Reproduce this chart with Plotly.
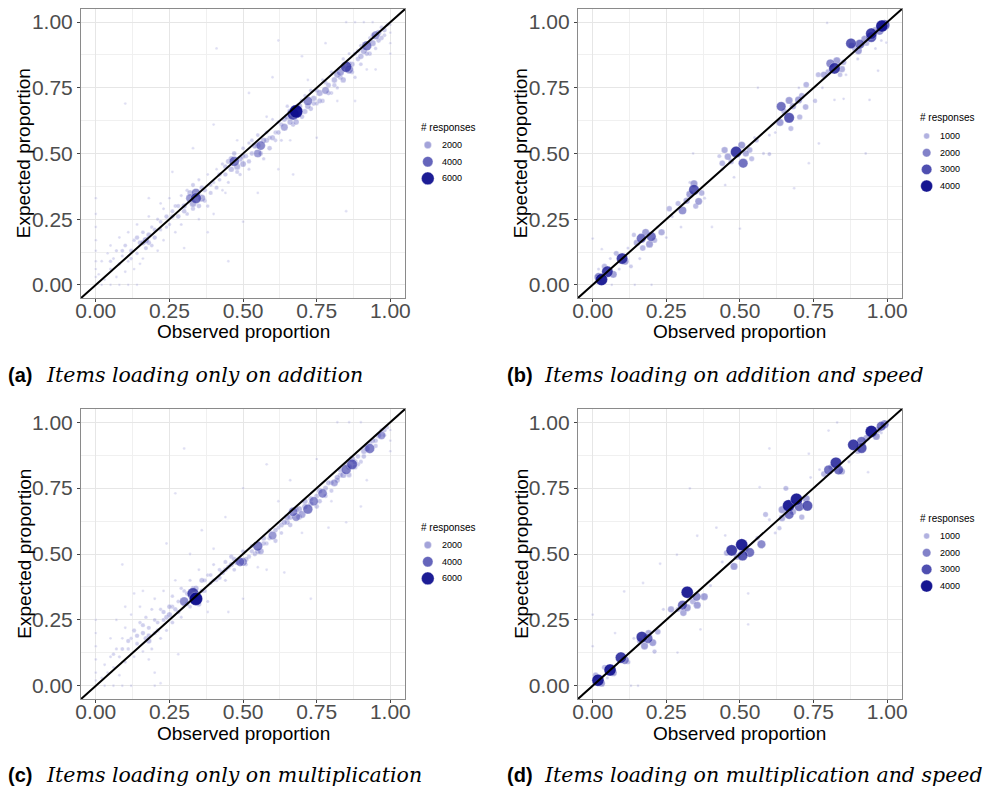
import plotly.graph_objects as go

# ---------------------------------------------------------------------------
# Data: (observed proportion, expected proportion, number of responses)
# ---------------------------------------------------------------------------
points_a = [
    (0.00, 0.03, 120), (0.00, 0.06, 120), (0.00, 0.09, 110), (0.00, 0.13, 100), (0.00, 0.17, 100),
    (0.00, 0.22, 100), (0.00, 0.27, 100), (0.00, 0.33, 100), (0.02, 0.00, 110), (0.05, 0.00, 110),
    (0.08, 0.00, 100), (0.11, 0.00, 100), (0.14, 0.00, 100),
    (0.01, 0.04, 200), (0.02, 0.09, 250), (0.03, 0.02, 300), (0.04, 0.12, 200), (0.05, 0.06, 400),
    (0.05, 0.15, 250), (0.06, 0.10, 350), (0.07, 0.03, 250), (0.07, 0.13, 450), (0.08, 0.08, 500),
    (0.08, 0.18, 250), (0.09, 0.11, 400), (0.10, 0.05, 250), (0.10, 0.15, 600), (0.11, 0.09, 350),
    (0.11, 0.20, 300), (0.12, 0.13, 700), (0.13, 0.17, 500), (0.13, 0.06, 250), (0.14, 0.23, 300),
    (0.14, 0.12, 500), (0.15, 0.16, 900), (0.16, 0.20, 600), (0.16, 0.10, 300), (0.17, 0.17, 1600),
    (0.17, 0.14, 700), (0.18, 0.19, 1000), (0.18, 0.26, 250), (0.19, 0.15, 600), (0.19, 0.22, 500),
    (0.20, 0.18, 800), (0.21, 0.13, 300), (0.21, 0.25, 450), (0.22, 0.21, 500), (0.23, 0.29, 350),
    (0.23, 0.17, 300), (0.24, 0.26, 800), (0.25, 0.23, 500), (0.25, 0.33, 250), (0.26, 0.28, 700),
    (0.27, 0.20, 300), (0.27, 0.30, 600), (0.28, 0.26, 900), (0.29, 0.34, 400), (0.29, 0.23, 350),
    (0.30, 0.30, 1100), (0.31, 0.36, 500), (0.31, 0.27, 600), (0.32, 0.33, 2600), (0.33, 0.31, 1800),
    (0.33, 0.38, 700), (0.34, 0.33, 4200), (0.34, 0.35, 3000), (0.35, 0.30, 900), (0.35, 0.40, 400),
    (0.36, 0.33, 1900), (0.37, 0.36, 800), (0.38, 0.30, 500), (0.38, 0.42, 300), (0.39, 0.35, 700),
    (0.40, 0.39, 500), (0.40, 0.27, 250), (0.41, 0.44, 300), (0.42, 0.40, 600), (0.43, 0.36, 300),
    (0.43, 0.46, 500), (0.44, 0.42, 800), (0.45, 0.47, 1000), (0.45, 0.39, 400), (0.46, 0.44, 1200),
    (0.47, 0.47, 3600), (0.47, 0.50, 900), (0.48, 0.45, 1500), (0.49, 0.48, 1300), (0.49, 0.42, 500),
    (0.50, 0.52, 600), (0.50, 0.46, 1400), (0.51, 0.49, 800), (0.52, 0.44, 400), (0.52, 0.54, 500),
    (0.53, 0.50, 900), (0.54, 0.53, 1400), (0.55, 0.50, 2400), (0.55, 0.57, 600), (0.56, 0.53, 3100),
    (0.57, 0.55, 1300), (0.57, 0.48, 500), (0.58, 0.58, 600), (0.59, 0.52, 900), (0.60, 0.56, 1100),
    (0.60, 0.63, 350), (0.61, 0.55, 600), (0.62, 0.58, 900), (0.63, 0.61, 800), (0.63, 0.55, 400),
    (0.64, 0.60, 2000), (0.65, 0.64, 1400), (0.65, 0.68, 500), (0.66, 0.62, 1300), (0.67, 0.65, 5000),
    (0.68, 0.66, 6500), (0.68, 0.62, 1300), (0.69, 0.68, 1600), (0.70, 0.64, 900), (0.71, 0.72, 500),
    (0.72, 0.70, 3000), (0.73, 0.67, 900), (0.73, 0.74, 600), (0.74, 0.71, 1200), (0.75, 0.69, 700),
    (0.76, 0.73, 1500), (0.77, 0.70, 800), (0.77, 0.78, 400), (0.78, 0.74, 2000), (0.79, 0.76, 1000),
    (0.80, 0.73, 600), (0.80, 0.81, 500), (0.81, 0.78, 1300), (0.82, 0.80, 1600), (0.82, 0.75, 500),
    (0.83, 0.81, 2200), (0.84, 0.78, 1200), (0.84, 0.86, 500), (0.85, 0.83, 4500), (0.86, 0.82, 2600),
    (0.86, 0.88, 400), (0.87, 0.84, 1100), (0.88, 0.79, 500), (0.88, 0.88, 700), (0.89, 0.86, 900),
    (0.90, 0.91, 600), (0.90, 0.87, 1200), (0.91, 0.89, 1500), (0.92, 0.91, 3500), (0.93, 0.88, 800),
    (0.93, 0.94, 500), (0.94, 0.92, 1500), (0.95, 0.95, 2600), (0.95, 0.90, 500), (0.96, 0.96, 1300),
    (0.97, 0.94, 900), (0.97, 0.98, 600), (0.98, 0.97, 900),
    (0.05, 0.09, 500), (0.09, 0.13, 600), (0.12, 0.10, 500), (0.14, 0.18, 800), (0.16, 0.16, 1100),
    (0.18, 0.16, 900), (0.20, 0.21, 700), (0.22, 0.24, 600), (0.24, 0.22, 500), (0.26, 0.26, 800),
    (0.28, 0.30, 700), (0.30, 0.28, 900), (0.32, 0.35, 1200), (0.33, 0.29, 800), (0.36, 0.37, 900),
    (0.37, 0.32, 700), (0.39, 0.38, 600), (0.41, 0.37, 700), (0.42, 0.42, 800), (0.44, 0.45, 900),
    (0.46, 0.48, 1100), (0.48, 0.43, 700), (0.50, 0.49, 1000), (0.52, 0.47, 800), (0.53, 0.55, 600),
    (0.55, 0.53, 1200), (0.56, 0.50, 900), (0.58, 0.55, 1000), (0.59, 0.56, 800), (0.61, 0.58, 700),
    (0.62, 0.62, 600), (0.64, 0.63, 1100), (0.66, 0.66, 1200), (0.67, 0.61, 900), (0.69, 0.65, 1200),
    (0.70, 0.70, 800), (0.71, 0.66, 1100), (0.72, 0.68, 1300), (0.74, 0.69, 900), (0.75, 0.74, 800),
    (0.76, 0.70, 1000), (0.78, 0.77, 700), (0.79, 0.73, 900), (0.81, 0.76, 800), (0.83, 0.79, 1000),
    (0.84, 0.83, 900), (0.86, 0.84, 1200), (0.87, 0.81, 800), (0.89, 0.89, 700), (0.90, 0.84, 600),
    (0.92, 0.88, 900), (0.94, 0.95, 800), (0.96, 0.93, 900), (0.98, 0.95, 600), (0.99, 0.99, 500),
    (1.00, 0.99, 120), (1.00, 0.96, 120), (1.00, 0.92, 110), (1.00, 0.88, 110), (0.85, 1.00, 100),
    (0.88, 1.00, 100), (0.91, 1.00, 100), (0.94, 1.00, 100),
    (0.10, 0.69, 150), (0.41, 0.90, 150), (0.62, 0.93, 150), (0.85, 0.28, 150), (0.50, 0.24, 150),
    (0.45, 0.09, 150), (0.67, 0.42, 200), (0.18, 0.33, 200), (0.26, 0.43, 200), (0.33, 0.52, 200),
    (0.40, 0.61, 200), (0.52, 0.73, 200), (0.60, 0.79, 200), (0.70, 0.87, 200), (0.78, 0.92, 200),
    (0.55, 0.35, 200), (0.62, 0.44, 200), (0.75, 0.56, 200), (0.88, 0.70, 200), (0.95, 0.82, 200),
    (0.30, 0.14, 200), (0.38, 0.20, 200), (0.15, 0.08, 200), (0.35, 0.25, 200), (0.48, 0.55, 200),
    (0.58, 0.64, 250), (0.72, 0.78, 200), (0.82, 0.70, 200), (0.92, 0.82, 200), (0.22, 0.31, 250),
    (0.44, 0.35, 200), (0.66, 0.55, 200),
]

points_b = [
    (0.03, 0.02, 4000), (0.02, 0.03, 2000), (0.05, 0.05, 3500), (0.07, 0.04, 1500), (0.04, 0.07, 900),
    (0.10, 0.10, 3500), (0.11, 0.09, 1500), (0.08, 0.12, 800), (0.13, 0.07, 500),
    (0.165, 0.177, 2500), (0.199, 0.184, 2500), (0.193, 0.155, 1500), (0.234, 0.200, 1200),
    (0.15, 0.16, 1200), (0.18, 0.20, 1500), (0.17, 0.14, 1000), (0.21, 0.17, 900), (0.14, 0.19, 600),
    (0.305, 0.283, 1800), (0.344, 0.362, 3000), (0.360, 0.318, 1500), (0.344, 0.385, 1500),
    (0.319, 0.320, 1200), (0.26, 0.29, 900), (0.33, 0.345, 1500), (0.37, 0.35, 1000), (0.29, 0.31, 800),
    (0.35, 0.30, 900),
    (0.487, 0.506, 3500), (0.511, 0.463, 2500), (0.448, 0.513, 1200), (0.440, 0.463, 1000),
    (0.459, 0.488, 1300), (0.506, 0.532, 1500), (0.533, 0.513, 1000), (0.556, 0.550, 700),
    (0.52, 0.50, 1200), (0.47, 0.47, 900), (0.54, 0.48, 800), (0.43, 0.49, 500),
    (0.640, 0.679, 2500), (0.667, 0.636, 3000), (0.636, 0.618, 1500), (0.667, 0.702, 1500),
    (0.699, 0.704, 1500), (0.723, 0.677, 1000), (0.703, 0.639, 900), (0.673, 0.595, 800),
    (0.725, 0.762, 1000), (0.755, 0.700, 600), (0.68, 0.68, 1200), (0.71, 0.72, 1000), (0.65, 0.66, 900),
    (0.821, 0.824, 3500), (0.807, 0.843, 2000), (0.785, 0.800, 1200), (0.846, 0.821, 1200),
    (0.829, 0.853, 1500), (0.852, 0.847, 900), (0.766, 0.800, 800), (0.80, 0.81, 1000), (0.84, 0.80, 700),
    (0.877, 0.919, 3000), (0.907, 0.916, 2500), (0.902, 0.891, 1500), (0.946, 0.956, 3500),
    (0.946, 0.943, 3000), (0.982, 0.985, 4000), (0.991, 0.989, 3000), (0.974, 0.967, 2000),
    (0.924, 0.935, 1500), (0.89, 0.90, 1000), (0.96, 0.97, 1200), (0.93, 0.92, 900), (0.88, 0.91, 1200),
    (0.927, 0.500, 200), (0.940, 0.704, 200), (0.734, 0.463, 150), (0.768, 0.538, 200),
    (0.684, 0.368, 150), (0.500, 0.214, 150), (0.405, 0.220, 150), (0.341, 0.500, 150),
    (0.561, 0.750, 150), (0.600, 0.498, 500), (0.852, 0.708, 200), (0.821, 0.704, 200),
    (0.969, 0.815, 200), (0.997, 0.922, 150), (0.000, 0.176, 150), (0.031, 0.136, 150),
    (0.065, 0.000, 150), (0.200, 0.000, 150), (0.143, 0.000, 150), (0.796, 0.997, 150),
    (0.44, 0.44, 300), (0.38, 0.33, 300), (0.58, 0.50, 300), (0.60, 0.57, 300), (0.27, 0.26, 300),
    (0.22, 0.22, 300), (0.12, 0.14, 300), (0.16, 0.10, 300), (0.06, 0.10, 300), (0.09, 0.06, 300),
    (0.30, 0.22, 250), (0.25, 0.18, 250), (0.45, 0.38, 250), (0.62, 0.58, 250), (0.78, 0.75, 250),
    (0.86, 0.80, 250), (0.90, 0.86, 300), (0.98, 0.93, 250), (0.96, 0.90, 250), (0.70, 0.75, 250),
    (0.55, 0.56, 300), (0.48, 0.41, 250), (0.33, 0.39, 300), (0.02, 0.06, 300), (0.01, 0.01, 300),
]

points_c = [
    (0.00, 0.02, 120), (0.00, 0.05, 120), (0.00, 0.10, 110), (0.00, 0.15, 100), (0.00, 0.20, 100),
    (0.00, 0.25, 100), (0.03, 0.00, 110), (0.06, 0.00, 110), (0.09, 0.00, 100), (0.12, 0.00, 100),
    (0.20, 0.00, 100), (0.22, 0.01, 100),
    (0.02, 0.03, 250), (0.03, 0.08, 250), (0.04, 0.05, 300), (0.05, 0.11, 350), (0.06, 0.07, 300),
    (0.07, 0.14, 400), (0.08, 0.04, 250), (0.08, 0.11, 400), (0.09, 0.18, 300), (0.10, 0.09, 400),
    (0.10, 0.22, 250), (0.11, 0.14, 500), (0.12, 0.27, 250), (0.12, 0.18, 500), (0.13, 0.21, 700),
    (0.13, 0.11, 300), (0.14, 0.16, 600), (0.15, 0.24, 500), (0.15, 0.30, 250), (0.16, 0.20, 800),
    (0.16, 0.13, 300), (0.17, 0.18, 900), (0.17, 0.26, 500), (0.18, 0.17, 1100), (0.18, 0.22, 700),
    (0.19, 0.14, 400), (0.19, 0.29, 400), (0.20, 0.20, 700), (0.20, 0.33, 300), (0.21, 0.24, 600),
    (0.22, 0.18, 400), (0.22, 0.29, 500), (0.23, 0.36, 300), (0.23, 0.25, 700), (0.24, 0.21, 400),
    (0.25, 0.30, 900), (0.25, 0.27, 1100), (0.26, 0.24, 600), (0.26, 0.34, 500), (0.27, 0.29, 800),
    (0.27, 0.40, 300), (0.28, 0.32, 600), (0.29, 0.26, 400), (0.29, 0.37, 500), (0.30, 0.32, 3000),
    (0.31, 0.35, 800), (0.32, 0.30, 600), (0.32, 0.40, 400), (0.33, 0.35, 5000), (0.34, 0.33, 6500),
    (0.34, 0.37, 1200), (0.35, 0.31, 1000), (0.35, 0.44, 300), (0.36, 0.40, 1000), (0.37, 0.36, 700),
    (0.38, 0.42, 500), (0.38, 0.32, 400), (0.39, 0.39, 600), (0.40, 0.46, 400), (0.41, 0.40, 500),
    (0.42, 0.44, 600), (0.43, 0.43, 1000), (0.44, 0.47, 700), (0.44, 0.40, 400), (0.45, 0.45, 900),
    (0.46, 0.49, 800), (0.47, 0.44, 600), (0.48, 0.47, 1500), (0.49, 0.47, 3000), (0.50, 0.47, 2500),
    (0.50, 0.51, 700), (0.51, 0.46, 600), (0.52, 0.49, 800), (0.53, 0.53, 700), (0.54, 0.50, 900),
    (0.55, 0.53, 3500), (0.56, 0.51, 1500), (0.57, 0.56, 1000), (0.58, 0.54, 700), (0.59, 0.59, 600),
    (0.60, 0.57, 2600), (0.61, 0.55, 800), (0.62, 0.60, 700), (0.63, 0.58, 600), (0.64, 0.62, 1200),
    (0.65, 0.64, 1500), (0.66, 0.61, 900), (0.67, 0.66, 3000), (0.68, 0.64, 2600), (0.69, 0.67, 1500),
    (0.70, 0.65, 2000), (0.71, 0.70, 1200), (0.72, 0.67, 3500), (0.73, 0.71, 1000), (0.74, 0.70, 3000),
    (0.75, 0.68, 900), (0.76, 0.74, 1200), (0.77, 0.73, 3000), (0.78, 0.72, 800), (0.79, 0.77, 1000),
    (0.80, 0.74, 700), (0.81, 0.77, 2000), (0.82, 0.79, 1200), (0.83, 0.82, 1000), (0.84, 0.80, 1500),
    (0.85, 0.82, 3500), (0.86, 0.80, 1000), (0.87, 0.84, 4000), (0.87, 0.86, 1500), (0.88, 0.83, 1000),
    (0.89, 0.87, 900), (0.90, 0.85, 700), (0.91, 0.89, 1200), (0.92, 0.90, 1500), (0.93, 0.90, 3500),
    (0.94, 0.93, 1100), (0.95, 0.91, 800), (0.96, 0.95, 1300), (0.97, 0.95, 2500), (0.98, 0.97, 900),
    (0.99, 0.98, 600),
    (0.06, 0.12, 500), (0.09, 0.14, 600), (0.11, 0.17, 700), (0.14, 0.19, 800), (0.16, 0.23, 700),
    (0.18, 0.19, 900), (0.20, 0.25, 600), (0.21, 0.21, 700), (0.23, 0.28, 800), (0.24, 0.26, 900),
    (0.26, 0.30, 700), (0.28, 0.28, 800), (0.30, 0.36, 600), (0.31, 0.31, 900), (0.33, 0.37, 900),
    (0.36, 0.36, 800), (0.37, 0.40, 700), (0.39, 0.42, 600), (0.40, 0.40, 700), (0.42, 0.41, 800),
    (0.44, 0.44, 900), (0.46, 0.46, 1000), (0.47, 0.48, 900), (0.51, 0.48, 1000), (0.53, 0.51, 800),
    (0.55, 0.51, 1200), (0.57, 0.54, 900), (0.59, 0.56, 800), (0.61, 0.59, 900), (0.63, 0.61, 1000),
    (0.65, 0.62, 1100), (0.66, 0.64, 1200), (0.68, 0.67, 1000), (0.69, 0.64, 1300), (0.71, 0.68, 1200),
    (0.73, 0.69, 1100), (0.75, 0.72, 1000), (0.76, 0.70, 900), (0.78, 0.75, 1000), (0.80, 0.77, 900),
    (0.82, 0.78, 1100), (0.83, 0.80, 1000), (0.85, 0.84, 900), (0.86, 0.83, 1300), (0.88, 0.85, 1100),
    (0.89, 0.84, 800), (0.91, 0.87, 900), (0.93, 0.92, 800), (0.95, 0.93, 900), (0.97, 0.97, 700),
    (0.98, 0.95, 600),
    (1.00, 0.97, 120), (1.00, 0.93, 110), (1.00, 0.89, 110), (0.82, 1.00, 100), (0.86, 1.00, 100),
    (0.90, 1.00, 100),
    (0.30, 0.90, 150), (0.09, 0.46, 200), (0.27, 0.73, 150), (0.73, 0.33, 150), (0.79, 0.60, 200),
    (0.64, 0.43, 200), (0.50, 0.33, 200), (0.58, 0.84, 150), (0.44, 0.64, 200), (0.36, 0.59, 200),
    (0.24, 0.54, 200), (0.50, 0.75, 150), (0.66, 0.78, 200), (0.75, 0.86, 200), (0.90, 0.68, 150),
    (0.58, 0.44, 200), (0.45, 0.28, 200), (0.20, 0.05, 200), (0.28, 0.12, 200), (0.13, 0.35, 200),
    (0.07, 0.25, 200), (0.85, 0.62, 150), (0.10, 0.30, 200), (0.16, 0.36, 200), (0.32, 0.50, 200),
    (0.40, 0.52, 200), (0.55, 0.45, 200), (0.70, 0.58, 200), (0.62, 0.70, 200), (0.80, 0.70, 200),
    (0.18, 0.10, 200), (0.38, 0.28, 200), (0.05, 0.18, 200), (0.92, 0.78, 200),
]

points_d = [
    (0.018, 0.021, 4000), (0.059, 0.060, 4000), (0.096, 0.107, 3500), (0.109, 0.098, 2000),
    (0.03, 0.01, 1500), (0.01, 0.04, 1000), (0.07, 0.05, 1500), (0.04, 0.07, 800), (0.12, 0.09, 700),
    (0.167, 0.185, 3500), (0.188, 0.179, 2500), (0.176, 0.151, 1500), (0.204, 0.164, 1500),
    (0.221, 0.205, 1000), (0.19, 0.20, 1200), (0.16, 0.17, 1000), (0.21, 0.13, 600),
    (0.321, 0.355, 4000), (0.305, 0.306, 2500), (0.353, 0.338, 2000), (0.379, 0.338, 1500),
    (0.266, 0.290, 1200), (0.355, 0.306, 1500), (0.321, 0.296, 1500), (0.308, 0.277, 1300),
    (0.34, 0.32, 1000), (0.29, 0.29, 800),
    (0.506, 0.535, 4000), (0.472, 0.514, 3500), (0.509, 0.494, 3000), (0.533, 0.506, 2500),
    (0.573, 0.537, 2000), (0.480, 0.453, 1500), (0.455, 0.504, 1000), (0.49, 0.49, 1200),
    (0.52, 0.52, 1000), (0.56, 0.56, 600),
    (0.665, 0.683, 4000), (0.692, 0.708, 4000), (0.667, 0.650, 2500), (0.729, 0.683, 3000),
    (0.701, 0.680, 2500), (0.643, 0.668, 1500), (0.656, 0.749, 800), (0.643, 0.636, 1200),
    (0.587, 0.650, 800), (0.634, 0.598, 600), (0.725, 0.710, 1500), (0.68, 0.66, 1200), (0.71, 0.64, 900),
    (0.826, 0.846, 3500), (0.801, 0.819, 2500), (0.835, 0.819, 2500), (0.785, 0.803, 1000),
    (0.846, 0.813, 1200), (0.81, 0.83, 1000),
    (0.885, 0.914, 3500), (0.913, 0.902, 3000), (0.913, 0.927, 2500), (0.946, 0.965, 4000),
    (0.980, 0.985, 2500), (0.991, 0.992, 2000), (0.963, 0.946, 1500), (0.93, 0.94, 1200),
    (0.97, 0.97, 1000), (0.90, 0.89, 900),
    (0.330, 0.749, 150), (0.567, 0.753, 150), (0.355, 0.569, 150), (0.286, 0.497, 150),
    (0.229, 0.463, 150), (0.171, 0.390, 150), (0.107, 0.358, 150), (0.000, 0.270, 150),
    (0.000, 0.150, 150), (0.076, 0.200, 150), (0.288, 0.126, 150), (0.366, 0.214, 150),
    (0.528, 0.233, 150), (0.528, 0.350, 150), (0.600, 0.900, 150), (0.734, 0.880, 150),
    (0.935, 0.810, 150), (0.830, 0.999, 150), (0.801, 0.968, 150), (0.130, 0.000, 150),
    (0.154, 0.000, 150), (0.45, 0.57, 200), (0.42, 0.60, 200), (0.74, 0.79, 200), (0.77, 0.82, 200),
    (0.62, 0.58, 300), (0.60, 0.63, 300), (0.87, 0.85, 300), (0.14, 0.18, 300), (0.24, 0.29, 300),
    (0.40, 0.38, 300), (0.05, 0.03, 300), (0.44, 0.47, 300), (0.98, 0.96, 300),
]

# Size-legend break values for each panel
legend_breaks_a = [2000, 4000, 6000]
legend_breaks_b = [1000, 2000, 3000, 4000]
legend_breaks_c = [2000, 4000, 6000]
legend_breaks_d = [1000, 2000, 3000, 4000]

tick_values = [0, 0.25, 0.5, 0.75, 1.0]
tick_labels = ["0.00", "0.25", "0.50", "0.75", "1.00"]
minor_values = [0.125, 0.375, 0.625, 0.875]

captions = [
    ("(a)", "Items loading only on addition"),
    ("(b)", "Items loading on addition and speed"),
    ("(c)", "Items loading only on multiplication"),
    ("(d)", "Items loading on multiplication and speed"),
]

# ---------------------------------------------------------------------------
# Styling helpers
# ---------------------------------------------------------------------------
W, H = 984, 787
LOW = (118, 118, 205)
HIGH = (12, 12, 140)
SANS = "Liberation Sans, Arial, sans-serif"


def colour(n, nmax, alpha):
    t = max(0.0, min(1.0, n / nmax))
    r, g, b = (round(lo + (hi - lo) * t) for lo, hi in zip(LOW, HIGH))
    return f"rgba({r},{g},{b},{alpha:.3f})"


def point_alpha(n, nmax):
    t = max(0.0, min(1.0, n / nmax))
    return 0.19 + 0.77 * t ** 0.8


def diameter(n, k):
    return max(2.9, k * n ** 0.5)


def xp(p):
    return p / W


def yp(p):
    return 1 - p / H


fig = go.Figure()

panels = [
    # data, legend breaks, colour max, size factor, plot box (px), legend origin (px), caption y (px)
    (points_a, legend_breaks_a, 6500, 0.165, (76, 9, 404, 298), (418, 127), 375),
    (points_b, legend_breaks_b, 4200, 0.19, (579, 9, 907, 298), (923, 118), 375),
    (points_c, legend_breaks_c, 6500, 0.165, (76, 409, 404, 699), (418, 527), 775),
    (points_d, legend_breaks_d, 4200, 0.19, (579, 409, 907, 699), (923, 518), 775),
]

axis_font = dict(family=SANS, size=21, color="#4D4D4D")
annotations = []

for i, (pts, breaks, nmax, k, box, leg, cap_y) in enumerate(panels):
    idx = i + 1
    xa = "x" if idx == 1 else f"x{idx}"
    ya = "y" if idx == 1 else f"y{idx}"
    x0, y0, x1, y1 = box

    pts_sorted = sorted(pts, key=lambda p: p[2])
    obs = [p[0] for p in pts_sorted]
    exp = [p[1] for p in pts_sorted]
    cnt = [p[2] for p in pts_sorted]

    fig.add_trace(go.Scatter(
        x=obs, y=exp, mode="markers", xaxis=xa, yaxis=ya, showlegend=False,
        marker=dict(
            size=[diameter(n, k) for n in cnt],
            color=[colour(n, nmax, point_alpha(n, nmax)) for n in cnt],
            opacity=1,
            line=dict(color="rgba(255,255,255,0.5)", width=0.6),
        ),
        hoverinfo="skip",
    ))
    # identity line
    fig.add_trace(go.Scatter(
        x=[-0.05, 1.05], y=[-0.05, 1.05], mode="lines", xaxis=xa, yaxis=ya,
        line=dict(color="black", width=2), showlegend=False, hoverinfo="skip",
    ))

    common = dict(
        range=[-0.05, 1.05], tickvals=tick_values, ticktext=tick_labels,
        showgrid=True, gridcolor="#E6E6E6", gridwidth=1,
        minor=dict(tickvals=minor_values, showgrid=True, gridcolor="#F0F0F0", gridwidth=1),
        zeroline=False, showline=True, mirror=True, linecolor="#8A8A8A", linewidth=1.2,
        ticks="outside", ticklen=3, tickcolor="#444444", tickwidth=1,
        tickfont=axis_font, fixedrange=True,
    )
    fig.update_layout(**{
        ("xaxis" if idx == 1 else f"xaxis{idx}"): dict(
            domain=[xp(x0), xp(x1)], anchor=ya, ticklabelstandoff=-9, **common),
        ("yaxis" if idx == 1 else f"yaxis{idx}"): dict(
            domain=[yp(y1), yp(y0)], anchor=xa, **common),
    })

    # axis titles
    annotations.append(dict(
        text="Observed proportion", xref="paper", yref="paper",
        x=xp((x0 + x1) / 2), y=yp(y1 + 34), xanchor="center", yanchor="middle",
        showarrow=False, font=dict(family=SANS, size=19, color="black"),
    ))
    annotations.append(dict(
        text="Expected proportion", xref="paper", yref="paper", textangle=-90,
        x=xp(x0 - 58), y=yp((y0 + y1) / 2), xanchor="center", yanchor="middle",
        showarrow=False, font=dict(family=SANS, size=19, color="black"),
    ))

    # size legend on its own pixel-scaled axes
    lidx = idx + 4
    lx, ly = leg
    lxa, lya = f"x{lidx}", f"y{lidx}"
    fig.update_layout(**{
        f"xaxis{lidx}": dict(domain=[xp(lx - 10), xp(lx + 60)], range=[lx - 10, lx + 60],
                             visible=False, fixedrange=True, anchor=lya),
        f"yaxis{lidx}": dict(domain=[yp(ly + 85), yp(ly - 12)], range=[ly + 85, ly - 12],
                             visible=False, fixedrange=True, anchor=lxa),
    })
    key_x = lx + 9
    key_y = [ly + 18 + j * 16.7 for j in range(len(breaks))]
    fig.add_trace(go.Scatter(
        x=[key_x] * len(breaks), y=key_y, mode="markers", xaxis=lxa, yaxis=lya,
        showlegend=False, hoverinfo="skip",
        marker=dict(size=[diameter(n, k) for n in breaks],
                    color=[colour(n, nmax, min(1.0, point_alpha(n, nmax) + 0.05)) for n in breaks],
                    opacity=1,
                    line=dict(color="rgba(255,255,255,0.6)", width=0.6)),
    ))
    annotations.append(dict(
        text="# responses", xref=lxa, yref=lya, x=lx, y=ly, xanchor="left", yanchor="middle",
        showarrow=False, font=dict(family=SANS, size=10, color="black"),
    ))
    for n, yy in zip(breaks, key_y):
        annotations.append(dict(
            text=str(n), xref=lxa, yref=lya, x=lx + 21, y=yy, xanchor="left", yanchor="middle",
            showarrow=False, font=dict(family=SANS, size=9, color="black"),
        ))

    # panel caption
    tag, desc = captions[i]
    cx = 0 if idx in (1, 3) else 505
    annotations.append(dict(
        text=f"<b>{tag}</b>", xref="paper", yref="paper", x=xp(cx), y=yp(cap_y),
        xanchor="left", yanchor="middle", showarrow=False,
        font=dict(family=SANS, size=20, color="black"),
    ))
    annotations.append(dict(
        text=f"<i>{desc}</i>", xref="paper", yref="paper", x=xp(cx + 38), y=yp(cap_y),
        xanchor="left", yanchor="middle", showarrow=False,
        font=dict(family="DejaVu Serif, serif", size=20.5, color="black"),
    ))

fig.update_layout(
    width=W, height=H, margin=dict(l=0, r=0, t=0, b=0),
    paper_bgcolor="white", plot_bgcolor="white",
    annotations=annotations, showlegend=False,
)

fig.write_html("out.html", config={"displayModeBar": False})
